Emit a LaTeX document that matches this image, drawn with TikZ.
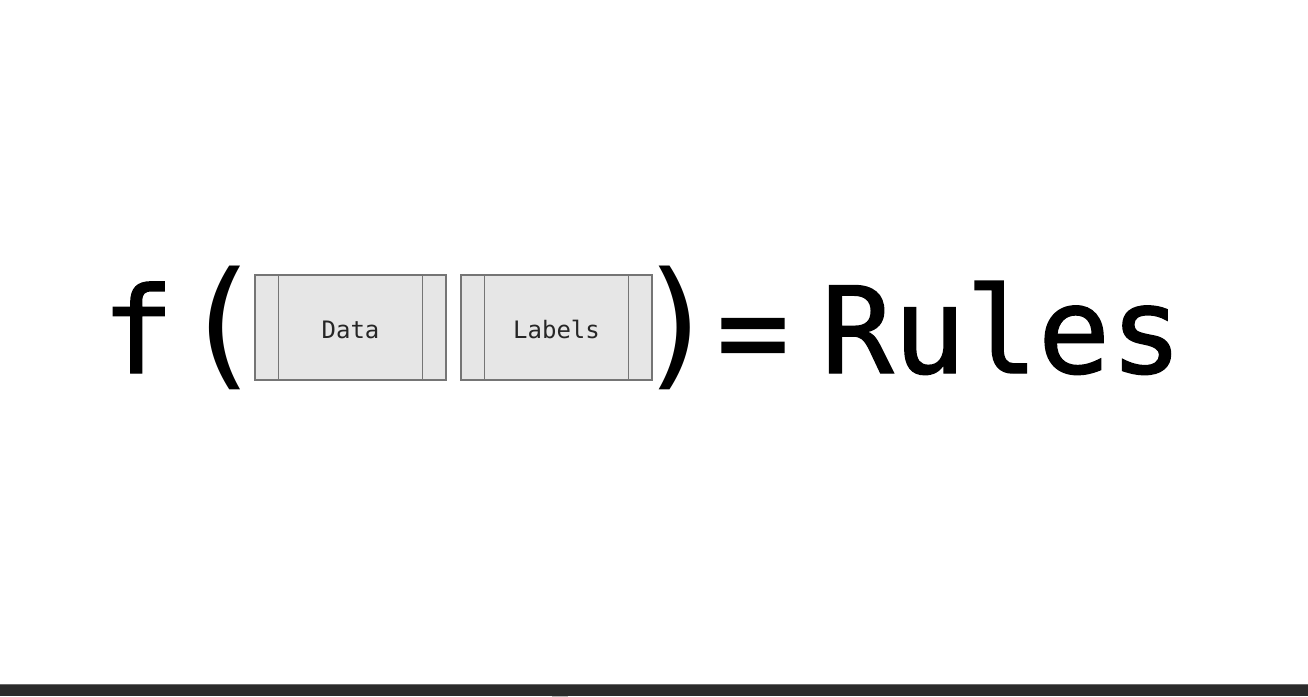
\documentclass[tikz,border=0pt]{standalone}
\usepackage{fontspec}
\newfontfamily\monofnt{DejaVu Sans Mono}
\newfontfamily\monobig[FakeBold=1.2]{DejaVu Sans Mono}
\definecolor{boxfill}{HTML}{E6E6E6}
\definecolor{boxline}{HTML}{757575}
\definecolor{barcol}{HTML}{2B2B2B}
\definecolor{barline}{HTML}{6A6A6A}
\tikzset{
  bigtext/.style={inner sep=0pt, anchor=base, font=\monobig\fontsize{120}{120}\selectfont},
  paren/.style={inner sep=0pt, anchor=base, font=\monofnt\fontsize{139}{139}\selectfont},
  argbox/.style={draw=boxline, fill=boxfill, line width=1.4pt, minimum width=191pt, minimum height=105pt,
     inner sep=0pt, text height=21pt, text depth=0pt, text=black!85, font=\monofnt\fontsize{24}{24}\selectfont},
  divider/.style={draw=boxline, line width=1.4pt}
}
\begin{document}
\begin{tikzpicture}[x=1pt,y=-1pt]
\useasboundingbox (0,0) rectangle (1308,696);
\fill[white] (0,0) rectangle (1308,696);
% bottom bar
\fill[barcol] (0,684) rectangle (1308,696);
\draw[barline, line width=1pt] (0,684.5) -- (1308,684.5);
\fill[gray!55] (552,696) arc[start angle=180, end angle=0, radius=8];
% formula
\node[bigtext] (f) at (138,373) {f};
\node[paren] (lp) at (222,371) {(};
\node[argbox] (data) at (350.5,327.5) {Data};
\node[argbox] (labels) at (556.5,327.5) {Labels};
\node[paren] (rp) at (677,371) {)};
\node[bigtext] (eq) at (753,373) {=};
\node[bigtext, anchor=base west] (rules) at (821,373) {Rules};
\foreach \b in {data,labels}{
  \draw[divider] ([xshift=24pt]\b.north west) -- ([xshift=24pt]\b.south west);
  \draw[divider] ([xshift=-24pt]\b.north east) -- ([xshift=-24pt]\b.south east);
}
\end{tikzpicture}
\end{document}
